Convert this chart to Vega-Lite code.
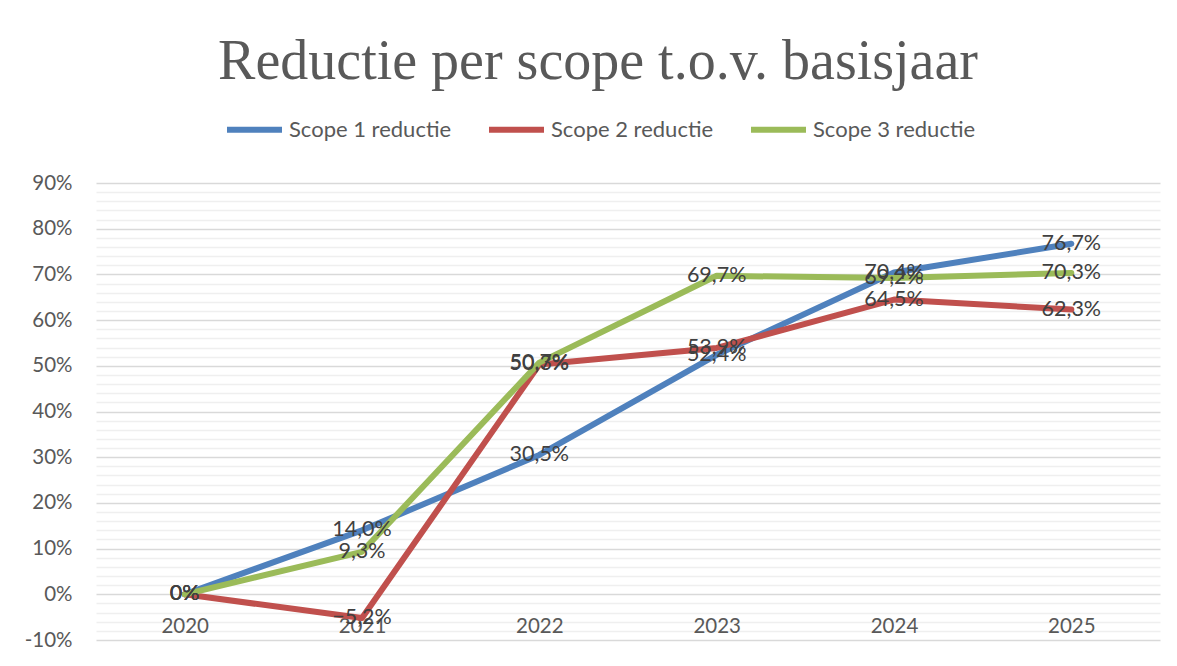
{
  "$schema": "https://vega.github.io/schema/vega-lite/v6.json",
  "width": 1064,
  "height": 457,
  "autosize": {"type": "none"},
  "padding": {"left": 96, "top": 183, "right": 17, "bottom": 26},
  "background": "white",
  "config": {"view": {"stroke": null}, "font": "Lato"},
  "title": {
    "text": "Reductie per scope t.o.v. basisjaar",
    "font": "Liberation Serif",
    "fontSize": 56,
    "fontWeight": "normal",
    "color": "#595959",
    "anchor": "middle",
    "dx": -30,
    "offset": 8
  },
  "data": {
    "values": [
      {"year": "2020", "scope": "Scope 1 reductie", "value": 0},
      {"year": "2021", "scope": "Scope 1 reductie", "value": 14.0},
      {"year": "2022", "scope": "Scope 1 reductie", "value": 30.5},
      {"year": "2023", "scope": "Scope 1 reductie", "value": 52.4},
      {"year": "2024", "scope": "Scope 1 reductie", "value": 70.4},
      {"year": "2025", "scope": "Scope 1 reductie", "value": 76.7},
      {"year": "2020", "scope": "Scope 2 reductie", "value": 0},
      {"year": "2021", "scope": "Scope 2 reductie", "value": -5.2},
      {"year": "2022", "scope": "Scope 2 reductie", "value": 50.3},
      {"year": "2023", "scope": "Scope 2 reductie", "value": 53.9},
      {"year": "2024", "scope": "Scope 2 reductie", "value": 64.5},
      {"year": "2025", "scope": "Scope 2 reductie", "value": 62.3},
      {"year": "2020", "scope": "Scope 3 reductie", "value": 0},
      {"year": "2021", "scope": "Scope 3 reductie", "value": 9.3},
      {"year": "2022", "scope": "Scope 3 reductie", "value": 50.7},
      {"year": "2023", "scope": "Scope 3 reductie", "value": 69.7},
      {"year": "2024", "scope": "Scope 3 reductie", "value": 69.2},
      {"year": "2025", "scope": "Scope 3 reductie", "value": 70.3}
    ]
  },
  "encoding": {
    "x": {
      "field": "year",
      "type": "ordinal",
      "scale": {"type": "point", "padding": 0.5},
      "axis": {
        "title": null,
        "orient": "bottom",
        "offset": -45.7,
        "domain": false,
        "ticks": false,
        "grid": false,
        "labelAngle": 0,
        "labelFontSize": 20.5,
        "labelColor": "#595959",
        "labelPadding": 22
      }
    },
    "y": {
      "field": "value",
      "type": "quantitative",
      "scale": {"domain": [-10, 90], "nice": false, "zero": false},
      "axis": {
        "title": null,
        "values": [-10,-8,-6,-4,-2,0,2,4,6,8,10,12,14,16,18,20,22,24,26,28,30,32,34,36,38,40,42,44,46,48,50,52,54,56,58,60,62,64,66,68,70,72,74,76,78,80,82,84,86,88,90],
        "labelExpr": "datum.value % 10 === 0 ? datum.value + '%' : ''",
        "domain": false,
        "ticks": false,
        "labelFontSize": 20.5,
        "labelColor": "#595959",
        "labelPadding": 24,
        "grid": true,
        "gridColor": {"condition": {"test": "datum.value % 10 === 0", "value": "#d9d9d9"}, "value": "#efefef"},
        "gridWidth": {"condition": {"test": "datum.value % 10 === 0", "value": 1.5}, "value": 1.3}
      }
    }
  },
  "layer": [
    {
      "mark": {"type": "line", "strokeWidth": 6, "strokeCap": "round", "strokeJoin": "round"},
      "encoding": {
        "color": {
          "field": "scope",
          "type": "nominal",
          "scale": {
            "domain": ["Scope 1 reductie", "Scope 2 reductie", "Scope 3 reductie"],
            "range": ["#4F81BD", "#C0504D", "#9BBB59"]
          },
          "legend": {
            "title": null,
            "orient": "none",
            "legendX": 128,
            "legendY": -84,
            "direction": "horizontal",
            "symbolType": "stroke",
            "symbolSize": 3025,
            "symbolStrokeWidth": 6,
            "labelFontSize": 22,
            "labelLimit": 400,
            "labelColor": "#595959",
            "labelOffset": 4,
            "columnPadding": 25
          }
        }
      }
    },
    {
      "transform": [
        {"calculate": "datum.value === 0 ? '0%' : replace(format(datum.value, '.1f'), '.', ',') + '%'", "as": "label"}
      ],
      "mark": {"type": "text", "fontSize": 21.5, "color": "#404040", "align": "center", "baseline": "middle"},
      "encoding": {"text": {"field": "label", "type": "nominal"}}
    }
  ]
}
